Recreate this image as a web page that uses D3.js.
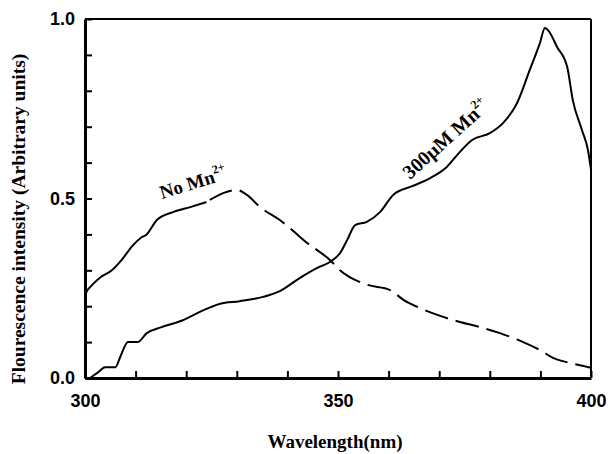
<!DOCTYPE html>
<html>
<head>
<meta charset="utf-8">
<script src="https://cdn.jsdelivr.net/npm/d3@7"></script>
<style>
  html, body { margin: 0; padding: 0; background: #fff; }
  svg { display: block; }
</style>
</head>
<body>
<svg id="chart" width="608" height="454"></svg>
<script>
// ---- data ----
const wavelengthsMn = [301, 302.5, 304, 306, 307, 308.5, 310.4, 312.2, 315, 318.8, 322.7, 326.7, 330.6, 335.2, 338.5, 342.5, 346.4, 348.4, 350.4, 351.8, 353.4, 355.7, 358.3, 360.9, 364.8, 368.2, 371.5, 374.1, 376.5, 380, 382.6, 385.4, 387.9, 389.9, 390.9, 391.5, 393.3, 395.3, 396.4, 398.2, 399.4, 400];
const intensityMn   = [0, 0.015, 0.03, 0.03, 0.06, 0.1, 0.1, 0.125, 0.141, 0.158, 0.184, 0.207, 0.214, 0.226, 0.242, 0.279, 0.31, 0.323, 0.348, 0.384, 0.426, 0.435, 0.462, 0.51, 0.535, 0.557, 0.588, 0.63, 0.663, 0.682, 0.71, 0.766, 0.858, 0.933, 0.975, 0.969, 0.922, 0.866, 0.774, 0.691, 0.635, 0.58];

const wavelengthsNoMn = [300, 300.5, 301, 303, 305.3, 307.3, 309.5, 311, 312.2, 314.2, 317.4, 320.8, 324, 327.3, 330, 332, 334.6, 338.5, 342.5, 343.9, 345.8, 348.4, 350.4, 355.7, 360.3, 363, 366.5, 370.2, 374.1, 378, 382, 386.6, 389.9, 392.5, 395.8, 399.2, 400];
const intensityNoMn   = [0.23, 0.245, 0.253, 0.28, 0.30, 0.33, 0.37, 0.39, 0.40, 0.44, 0.462, 0.476, 0.49, 0.515, 0.524, 0.51, 0.476, 0.44, 0.393, 0.376, 0.357, 0.329, 0.30, 0.26, 0.245, 0.217, 0.193, 0.173, 0.156, 0.142, 0.125, 0.10, 0.078, 0.056, 0.042, 0.031, 0.028];
const noMnSolidUntil = 324; // wavelength where the No Mn curve turns dashed

const xTicks = [300, 310, 320, 330, 340, 350, 360, 370, 380, 390, 400];
const xTickLabels = [300, 350, 400];
const yTicks = [0, 0.1, 0.2, 0.3, 0.4, 0.5, 0.6, 0.7, 0.8, 0.9, 1.0];
const yTickLabels = [0, 0.5, 1.0];

const xTitle = "Wavelength(nm)";
const yTitle = "Flourescence intensity (Arbitrary units)";

// ---- layout ----
const svg = d3.select("#chart");
const L = 85, R = 591, T = 19, B = 378;
const x = d3.scaleLinear().domain([300, 400]).range([L, R]);
const y = d3.scaleLinear().domain([0, 1]).range([B, T]);

const serif = "'Liberation Serif', 'Times New Roman', serif";
const sans = "'Liberation Sans', Arial, sans-serif";

// frame top/right
svg.append("line").attr("x1", L).attr("x2", R).attr("y1", T).attr("y2", T)
  .attr("stroke", "#000").attr("stroke-width", 2);
svg.append("line").attr("x1", R).attr("x2", R).attr("y1", T).attr("y2", B)
  .attr("stroke", "#000").attr("stroke-width", 2);

// axes
const xAxis = d3.axisBottom(x).tickValues(xTicks).tickSizeInner(-7).tickSizeOuter(0)
  .tickPadding(16).tickFormat(d => xTickLabels.includes(d) ? d3.format("d")(d) : "");
const gx = svg.append("g").attr("transform", `translate(0,${B})`).call(xAxis);
gx.select(".domain").attr("stroke-width", 3);
gx.selectAll(".tick line").attr("stroke", "#000").attr("stroke-width", 2);
gx.selectAll("text").attr("font-family", sans).attr("font-weight", "bold")
  .attr("font-size", 18).attr("fill", "#000");

const yAxis = d3.axisLeft(y).tickValues(yTicks).tickSizeInner(-7).tickSizeOuter(0)
  .tickPadding(10).tickFormat(d => yTickLabels.some(v => Math.abs(v - d) < 1e-9) ? d3.format(".1f")(d) : "");
const gy = svg.append("g").attr("transform", `translate(${L},0)`).call(yAxis);
gy.select(".domain").attr("stroke-width", 3);
gy.selectAll(".tick line").attr("stroke", "#000").attr("stroke-width", 2);
gy.selectAll("text").attr("font-family", sans).attr("font-weight", "bold")
  .attr("font-size", 18).attr("fill", "#000");

// axis titles
svg.append("text").attr("x", 335).attr("y", 448).attr("text-anchor", "middle")
  .attr("font-family", serif).attr("font-weight", "bold").attr("font-size", 19)
  .text(xTitle);
svg.append("text").attr("transform", "translate(25,219) rotate(-90)")
  .attr("text-anchor", "middle")
  .attr("font-family", serif).attr("font-weight", "bold").attr("font-size", 19.5)
  .text(yTitle);

// curves
const line = d3.line().x(d => x(d[0])).y(d => y(d[1])).curve(d3.curveMonotoneX);
const mnData = wavelengthsMn.map((w, i) => [w, intensityMn[i]]);
const noMnData = wavelengthsNoMn.map((w, i) => [w, intensityNoMn[i]]);

svg.append("path").datum(mnData).attr("d", line)
  .attr("fill", "none").attr("stroke", "#000").attr("stroke-width", 2);

svg.append("path").datum(noMnData.filter(d => d[0] <= noMnSolidUntil)).attr("d", line)
  .attr("fill", "none").attr("stroke", "#000").attr("stroke-width", 2);
svg.append("path").datum(noMnData.filter(d => d[0] >= noMnSolidUntil)).attr("d", line)
  .attr("fill", "none").attr("stroke", "#000").attr("stroke-width", 2)
  .attr("stroke-dasharray", "0,4,24,4");

// annotations
function label(xp, yp, angle, size, main, sup) {
  const t = svg.append("text")
    .attr("transform", `translate(${xp},${yp}) rotate(${angle})`)
    .attr("font-family", serif).attr("font-weight", "bold").attr("font-size", size);
  t.append("tspan").text(main);
  t.append("tspan").attr("font-size", 12).attr("dy", -9).text(sup);
}
label(162, 199, -17, 19, "No Mn", "2+");
label(410, 180, -42, 20, "300\u00B5M Mn", "2+");
</script>
</body>
</html>
